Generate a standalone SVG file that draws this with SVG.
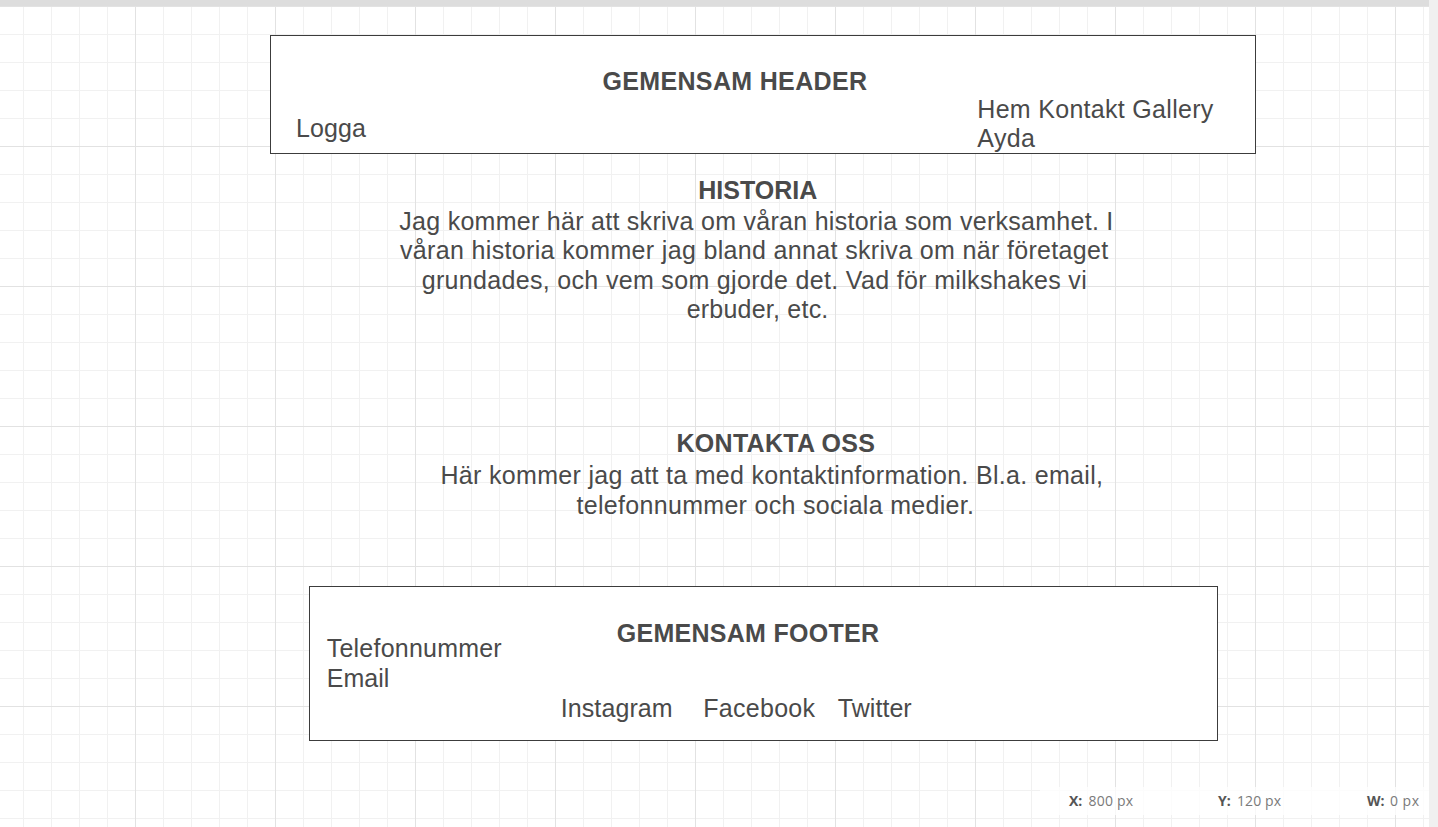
<svg xmlns="http://www.w3.org/2000/svg" width="1438" height="827" viewBox="0 0 1438 827">
  <defs>
    <!-- editor grid: 28px minor cells, 140px major cells -->
    <pattern id="grid" x="-5" y="6" width="140" height="140" patternUnits="userSpaceOnUse">
      <rect x="28" y="0" width="1" height="140" fill="#f1f1f1"/>
      <rect x="56" y="0" width="1" height="140" fill="#f1f1f1"/>
      <rect x="84" y="0" width="1" height="140" fill="#f1f1f1"/>
      <rect x="112" y="0" width="1" height="140" fill="#f1f1f1"/>
      <rect x="0" y="28" width="140" height="1" fill="#f1f1f1"/>
      <rect x="0" y="56" width="140" height="1" fill="#f1f1f1"/>
      <rect x="0" y="84" width="140" height="1" fill="#f1f1f1"/>
      <rect x="0" y="112" width="140" height="1" fill="#f1f1f1"/>
      <rect x="0" y="0" width="1" height="140" fill="#e2e2e2"/>
      <rect x="0" y="0" width="140" height="1" fill="#e2e2e2"/>
    </pattern>
    <style>
      .box { fill: #ffffff; stroke: #3c3c3c; stroke-width: 1; }
      .t { font-family: "Liberation Sans", Arial, Helvetica, sans-serif; font-size: 25px; fill: #4a4a4a; }
      .b { font-weight: bold; }
      .st { font-family: "Open Sans", "Liberation Sans", Arial, sans-serif; font-size: 14px; fill: #7a7a7a; }
      .stb { font-weight: bold; fill: #555555; }
    </style>
  </defs>

  <!-- canvas -->
  <rect x="0" y="0" width="1438" height="827" fill="#ffffff"/>
  <rect x="0" y="6" width="1429" height="821" fill="url(#grid)"/>
  <rect x="0" y="0" width="1430" height="6" fill="#dddddd"/>
  <rect x="1429" y="0" width="9" height="827" fill="#f0f0f0"/>

  <g id="connectors"/>

  <!-- shared header -->
  <g id="header">
    <rect class="box" x="270.5" y="35.5" width="985" height="118"/>
    <text class="t b" x="602.5" y="90" textLength="264.5" lengthAdjust="spacing">GEMENSAM HEADER</text>
    <text class="t" x="296" y="137" textLength="70" lengthAdjust="spacing">Logga</text>
    <text class="t" x="977.3" y="117.5" textLength="236" lengthAdjust="spacing">Hem Kontakt Gallery</text>
    <text class="t" x="977.3" y="147" textLength="57.7" lengthAdjust="spacing">Ayda</text>
  </g>

  <!-- history section -->
  <g id="historia">
    <text class="t b" x="698.3" y="198.5" textLength="119" lengthAdjust="spacing">HISTORIA</text>
    <text class="t" x="399.3" y="230" textLength="714" lengthAdjust="spacing">Jag kommer här att skriva om våran historia som verksamhet. I</text>
    <text class="t" x="400" y="259" textLength="708.3" lengthAdjust="spacing">våran historia kommer jag bland annat skriva om när företaget</text>
    <text class="t" x="421.7" y="288.5" textLength="665" lengthAdjust="spacing">grundades, och vem som gjorde det. Vad för milkshakes vi</text>
    <text class="t" x="686.7" y="317.5" textLength="141.6" lengthAdjust="spacing">erbuder, etc.</text>
  </g>

  <!-- contact section -->
  <g id="kontakta">
    <text class="t b" x="676.5" y="452" textLength="198.5" lengthAdjust="spacing">KONTAKTA OSS</text>
    <text class="t" x="440.5" y="484" textLength="662.5" lengthAdjust="spacing">Här kommer jag att ta med kontaktinformation. Bl.a. email,</text>
    <text class="t" x="576.5" y="514" textLength="397.5" lengthAdjust="spacing">telefonnummer och sociala medier.</text>
  </g>

  <!-- shared footer -->
  <g id="footer">
    <rect class="box" x="309.5" y="586.5" width="908" height="154"/>
    <text class="t b" x="616.7" y="642" textLength="262.3" lengthAdjust="spacing">GEMENSAM FOOTER</text>
    <text class="t" x="326.7" y="657" textLength="175" lengthAdjust="spacing">Telefonnummer</text>
    <text class="t" x="326.7" y="687" textLength="62.6" lengthAdjust="spacing">Email</text>
    <text class="t" x="560.7" y="716.5" textLength="112" lengthAdjust="spacing">Instagram</text>
    <text class="t" x="703.3" y="716.5" textLength="111.7" lengthAdjust="spacing">Facebook</text>
    <text class="t" x="837.7" y="716.5" textLength="74" lengthAdjust="spacing">Twitter</text>
  </g>

  <!-- status readout -->
  <g id="status">
    <rect x="1040" y="787" width="389" height="28" fill="#ffffff" fill-opacity="0.75"/>
    <text class="st stb" x="1069" y="806">X:</text>
    <text class="st" x="1088.5" y="806" textLength="44.5" lengthAdjust="spacing">800 px</text>
    <text class="st stb" x="1218" y="806">Y:</text>
    <text class="st" x="1237" y="806" textLength="44" lengthAdjust="spacing">120 px</text>
    <text class="st stb" x="1367" y="806">W:</text>
    <text class="st" x="1390" y="806" textLength="29" lengthAdjust="spacing">0 px</text>
  </g>
</svg>
